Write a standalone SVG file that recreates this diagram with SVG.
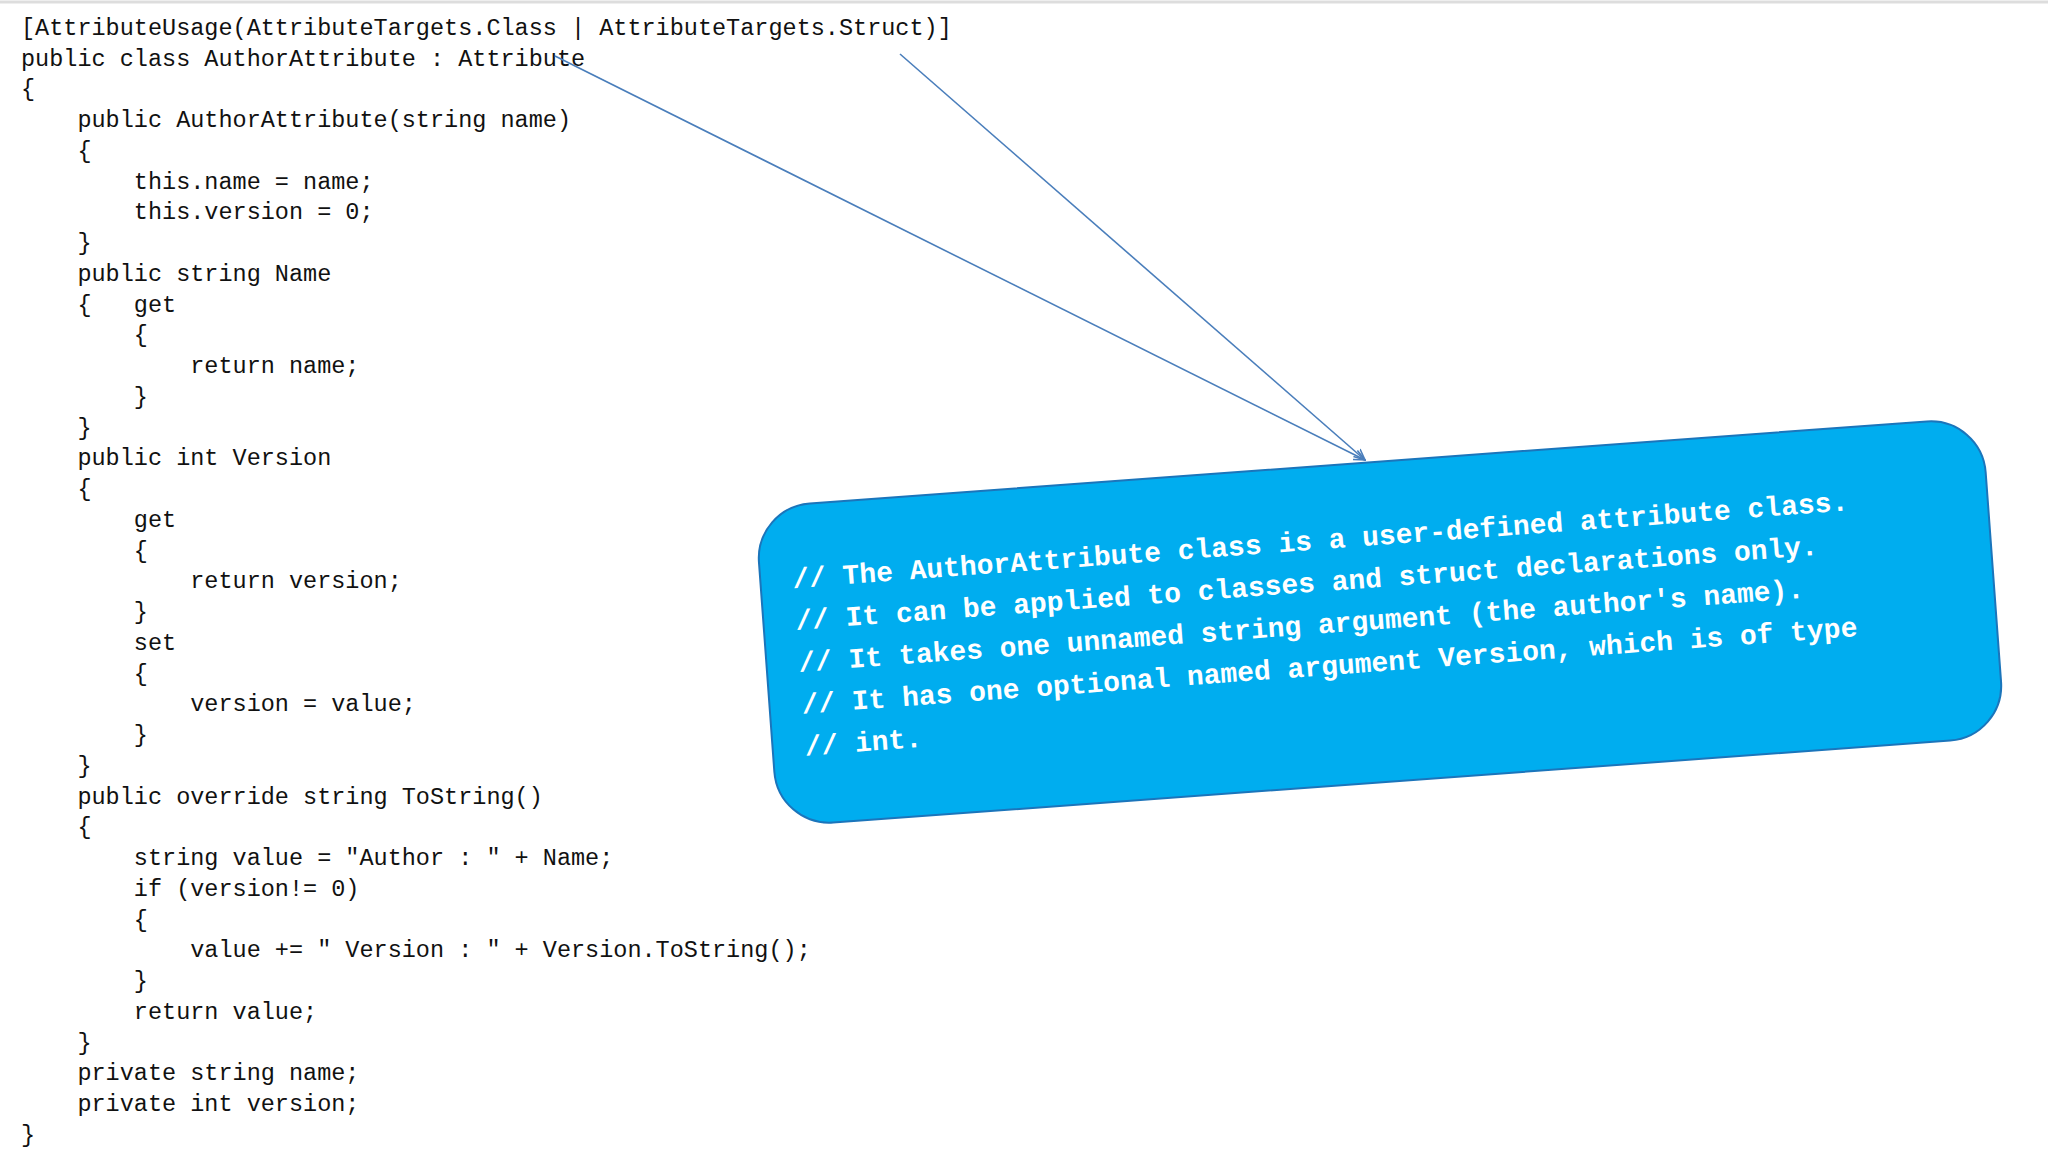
<svg xmlns="http://www.w3.org/2000/svg" width="2048" height="1152" viewBox="0 0 2048 1152">
<style>
.code{font-family:"Liberation Mono",monospace;font-size:23.5px;fill:#111;white-space:pre}
.note{font-family:"Liberation Mono",monospace;font-size:28px;font-weight:bold;fill:#fff;white-space:pre}
.conn{stroke:#4a7ebb;stroke-width:1.6;fill:none}
</style>
<defs>
<marker id="ah" viewBox="0 0 12 12" refX="11" refY="6" markerWidth="12" markerHeight="12" markerUnits="userSpaceOnUse" orient="auto">
<path d="M0,1 L11,6 L0,11" fill="none" stroke="#4a7ebb" stroke-width="1.6"/>
</marker>
</defs>
<rect width="2048" height="1152" fill="#fff"/>
<line x1="0" y1="2" x2="2048" y2="2" stroke="#ddd" stroke-width="3"/>
<g id="code">
<text class="code" x="21" y="35">[AttributeUsage(AttributeTargets.Class | AttributeTargets.Struct)]</text>
<text class="code" x="21" y="66">public class AuthorAttribute : Attribute</text>
<text class="code" x="21" y="96">{</text>
<text class="code" x="21" y="127">    public AuthorAttribute(string name)</text>
<text class="code" x="21" y="158">    {</text>
<text class="code" x="21" y="189">        this.name = name;</text>
<text class="code" x="21" y="219">        this.version = 0;</text>
<text class="code" x="21" y="250">    }</text>
<text class="code" x="21" y="281">    public string Name</text>
<text class="code" x="21" y="312">    {   get</text>
<text class="code" x="21" y="342">        {</text>
<text class="code" x="21" y="373">            return name;</text>
<text class="code" x="21" y="404">        }</text>
<text class="code" x="21" y="435">    }</text>
<text class="code" x="21" y="465">    public int Version</text>
<text class="code" x="21" y="496">    {</text>
<text class="code" x="21" y="527">        get</text>
<text class="code" x="21" y="558">        {</text>
<text class="code" x="21" y="588">            return version;</text>
<text class="code" x="21" y="619">        }</text>
<text class="code" x="21" y="650">        set</text>
<text class="code" x="21" y="681">        {</text>
<text class="code" x="21" y="711">            version = value;</text>
<text class="code" x="21" y="742">        }</text>
<text class="code" x="21" y="773">    }</text>
<text class="code" x="21" y="804">    public override string ToString()</text>
<text class="code" x="21" y="834">    {</text>
<text class="code" x="21" y="865">        string value = "Author : " + Name;</text>
<text class="code" x="21" y="896">        if (version!= 0)</text>
<text class="code" x="21" y="927">        {</text>
<text class="code" x="21" y="957">            value += " Version : " + Version.ToString();</text>
<text class="code" x="21" y="988">        }</text>
<text class="code" x="21" y="1019">        return value;</text>
<text class="code" x="21" y="1050">    }</text>
<text class="code" x="21" y="1080">    private string name;</text>
<text class="code" x="21" y="1111">    private int version;</text>
<text class="code" x="21" y="1142">}</text>
</g>
<g id="note" transform="rotate(-4.2 1380 622)">
<rect x="765" y="462" width="1230" height="320" rx="55" ry="55" fill="#00adef" stroke="#1b75bb" stroke-width="2"/>
<text class="note" x="797" y="545">// The AuthorAttribute class is a user-defined attribute class.</text>
<text class="note" x="797" y="587">// It can be applied to classes and struct declarations only.</text>
<text class="note" x="797" y="629">// It takes one unnamed string argument (the author's name).</text>
<text class="note" x="797" y="671">// It has one optional named argument Version, which is of type</text>
<text class="note" x="797" y="713">// int.</text>
</g>
<g id="connectors">
<line class="conn" x1="555" y1="56" x2="1365" y2="460" marker-end="url(#ah)"/>
<line class="conn" x1="900" y1="54" x2="1365" y2="460" marker-end="url(#ah)"/>
</g>
</svg>
